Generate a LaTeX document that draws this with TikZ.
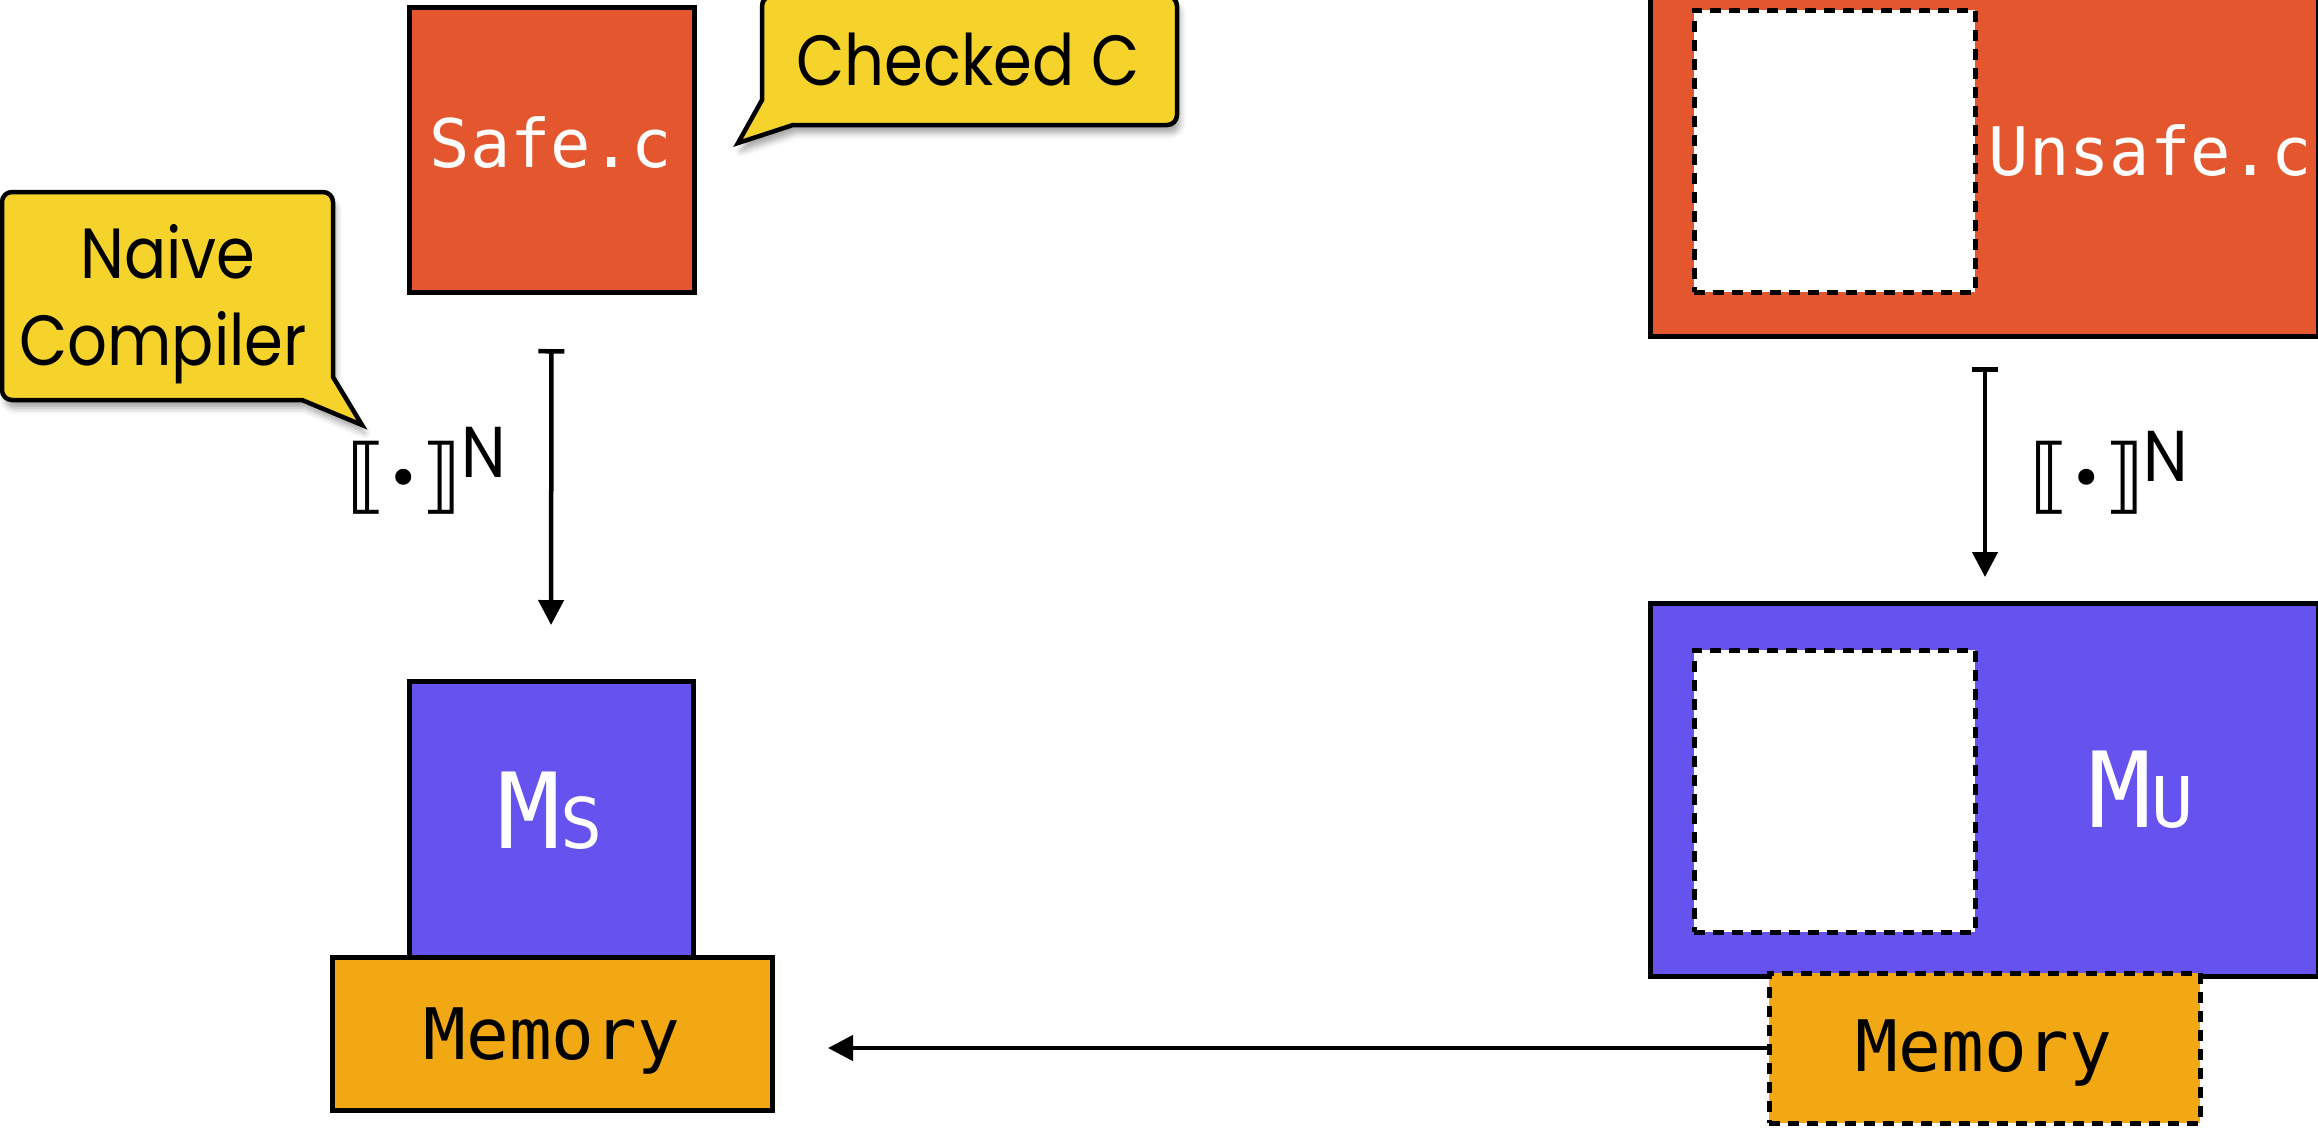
\documentclass[tikz,border=0pt]{standalone}
\usepackage{fontspec}
\setmainfont{DejaVu Sans}
\newfontfamily\codefont{DejaVu Sans Mono}
\newfontfamily\notefont[FakeStretch=0.88]{Poppins}
\newfontfamily\semfont{DejaVu Sans}
\usetikzlibrary{arrows.meta,shadows.blur}

\definecolor{srcred}{HTML}{E4572E}
\definecolor{machblue}{HTML}{6652EF}
\definecolor{memorange}{HTML}{F2A813}
\definecolor{noteyellow}{HTML}{F5D32A}

\newcommand{\fs}[1]{\fontsize{#1pt}{#1pt}\selectfont}
% semantic brackets with a round centre dot
\newcommand{\semdot}{⟦\raisebox{9pt}{\fs{55}∙}⟧}

\begin{document}
\begin{tikzpicture}[x=1pt,y=-1pt,
  box/.style={draw=black, line width=5pt, inner sep=0pt, outer sep=0pt, anchor=north west},
  hole/.style={draw=black, fill=white, line width=5pt, dash pattern=on 11pt off 8pt,
    inner sep=0pt, outer sep=0pt, anchor=north west},
  callout/.style={draw=black, line width=4.5pt, fill=noteyellow,
    blur shadow={shadow xshift=3pt, shadow yshift=-8pt, shadow blur radius=6pt, shadow opacity=35}},
  flow/.style={line width=4.5pt, {Bar[width=26pt]}-{Triangle[length=25pt,width=25pt]}},
  back/.style={line width=4.5pt, -{Triangle[length=25pt,width=25pt]}},
  code/.style={font=\codefont\fs{67}, text=white, anchor=base, inner sep=0pt},
  memtext/.style={font=\codefont\fs{71}, text=black, anchor=base, inner sep=0pt},
  note/.style={font=\notefont\fs{71}, text=black, anchor=base, inner sep=0pt},
  sem/.style={font=\semfont\fs{82}, anchor=base west, inner sep=0pt},
  semidx/.style={font=\notefont\fs{72}, anchor=base west, inner sep=0pt}
]
\useasboundingbox (0,0) rectangle (2318,1128);

% ---- safe side ----
\node[box, fill=srcred, minimum width=285pt, minimum height=285pt] (safe) at (409,7) {};
\node[code] (safetxt) at (551,167) {Safe.c};

\node[box, fill=machblue, minimum width=284pt, minimum height=300pt] (ms) at (409,681) {};
\node[anchor=base, inner sep=0pt, text=white] (mstxt) at (550,848)
  {{\codefont\fs{105}M}{\codefont\fs{70}S}};

\node[box, fill=memorange, minimum width=440pt, minimum height=153pt] (memL) at (332,957) {};
\node[memtext] (memLtxt) at (552,1059) {Memory};

% ---- unsafe side ----
\node[box, fill=srcred, minimum width=668pt, minimum height=346pt] (unsafe) at (1650,-10) {};
\node[hole, minimum width=281pt, minimum height=282pt] (holeA) at (1694,10) {};
\node[code] (unsafetxt) at (2150,175) {Unsafe.c};

\node[box, fill=machblue, minimum width=668pt, minimum height=373pt] (mu) at (1650,603) {};
\node[hole, minimum width=281pt, minimum height=282pt] (holeB) at (1694,650) {};
\node[anchor=base, inner sep=0pt, text=white] (mutxt) at (2141,827)
  {{\codefont\fs{105}M}{\codefont\fs{70}U}};

\node[hole, fill=memorange, minimum width=431pt, minimum height=150pt] (memR) at (1769,973) {};
\node[memtext] (memRtxt) at (1984,1071) {Memory};

% ---- compilation arrows ----
\draw[flow, shorten <=57pt, shorten >=56pt] (safe.south) -- (ms.north);
\draw[flow, shorten <=31pt, shorten >=26pt]
  ([xshift=335pt]unsafe.south west) -- ([xshift=335pt]mu.north west);
\draw[back, shorten >=56pt] (memR.west) -- (memR.west -| memL.east);

% ---- compiler labels ----
\node[sem] (semL) at (346,503) {\semdot};
\node[semidx] (semLN) at (461,477) {N};
\node[sem] (semR) at (2029,503) {\semdot};
\node[semidx] (semRN) at (2143,481) {N};

% ---- callouts ----
\path[callout] (738,143) -- (762,100) [rounded corners=10pt] -- (762,-4) -- (1177,-4)
  -- (1177,125) [sharp corners] -- (793,125) -- cycle;
\node[note] (checked) at (968,85) {Checked C};

\path[callout] (362,425) -- (302,400) [rounded corners=10pt] -- (2,400) -- (2,192)
  -- (333,192) [sharp corners] -- (333,377) -- cycle;
\node[note] (naive) at (168,278) {Naive};
\node[note] (compiler) at (163,365) {Compiler};
\end{tikzpicture}
\end{document}
